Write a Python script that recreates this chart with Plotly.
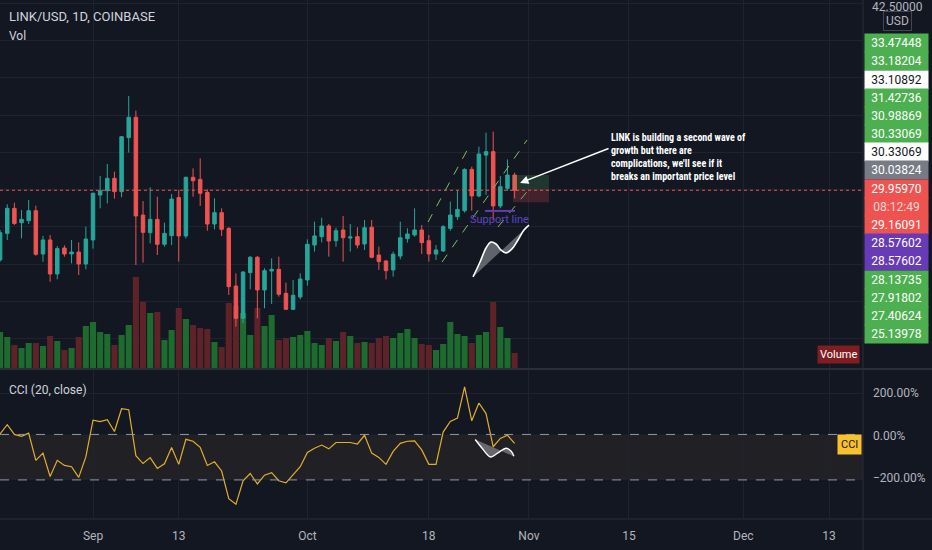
import pandas as pd
import plotly.graph_objects as go

# LINK/USD daily candles (first bar 2021-08-19)
start = "2021-08-19"
open_ = [25.29, 27.07, 28.75, 27.79, 27.92, 28.59, 25.69, 26.63, 24.35, 26.09,
         25.69, 25.82, 25.02, 26.63, 29.64, 29.93, 30.76, 29.87, 33.49, 34.85,
         28.30, 27.12, 28.01, 26.34, 26.92, 29.47, 26.90, 30.83, 30.69, 29.82,
         27.70, 28.46, 27.41, 23.54, 21.38, 24.44, 25.47, 23.28, 24.55, 24.66,
         23.05, 21.98, 22.81, 23.95, 26.29, 26.85, 27.57, 26.58, 27.30, 26.76,
         26.85, 26.36, 27.48, 25.62, 25.22, 24.62, 25.55, 26.72, 26.96, 27.30,
         26.58, 25.69, 25.89, 27.41, 28.19, 28.59, 31.36, 29.58, 32.32, 32.55,
         28.91, 30.09, 30.98]
high = [27.30, 29.02, 29.13, 28.64, 29.31, 28.93, 26.90, 26.96, 26.22, 26.27,
        26.63, 26.47, 27.52, 29.80, 30.92, 31.72, 31.21, 33.60, 36.28, 35.30,
        29.24, 30.16, 29.53, 27.79, 29.71, 29.98, 30.87, 31.43, 32.10, 30.02,
        29.42, 28.75, 27.48, 24.39, 24.55, 25.56, 25.56, 24.73, 25.40, 25.51,
        23.77, 23.95, 24.39, 26.67, 27.86, 28.12, 27.70, 27.45, 28.24, 27.70,
        27.48, 27.97, 27.97, 26.18, 25.29, 25.85, 27.86, 27.41, 28.75, 27.63,
        26.96, 26.29, 27.63, 29.20, 29.93, 31.43, 31.54, 32.88, 33.82, 33.89,
        30.92, 32.03, 31.14]
low = [25.17, 26.63, 27.63, 26.74, 27.70, 25.58, 25.17, 23.83, 23.99, 25.51,
       25.06, 24.28, 24.66, 26.05, 28.75, 29.08, 29.40, 29.49, 32.48, 24.95,
       25.11, 26.40, 25.62, 26.18, 26.29, 25.18, 26.74, 29.53, 28.91, 27.25,
       27.34, 26.90, 22.94, 20.82, 21.04, 23.32, 21.38, 22.05, 22.34, 22.83,
       21.94, 21.94, 22.65, 23.57, 25.85, 26.47, 25.51, 26.18, 25.18, 25.85,
       26.07, 25.96, 25.40, 24.62, 23.99, 24.17, 25.33, 26.45, 26.85, 25.69,
       25.18, 25.29, 25.85, 27.25, 27.97, 28.46, 28.59, 29.49, 29.64, 27.97,
       28.75, 29.93, 29.42]
close = [27.12, 28.75, 27.74, 28.01, 28.59, 25.67, 26.63, 24.35, 26.05, 25.69,
         25.82, 25.02, 26.69, 29.76, 29.93, 30.76, 29.87, 33.55, 34.85, 28.24,
         27.14, 28.01, 26.34, 27.07, 29.37, 26.90, 30.83, 30.60, 29.76, 27.70,
         28.46, 27.34, 23.50, 21.38, 24.48, 25.47, 23.28, 24.57, 24.66, 22.99,
         21.98, 22.92, 24.01, 26.34, 26.90, 27.57, 26.56, 27.25, 26.78, 26.83,
         26.29, 27.45, 25.47, 25.18, 24.57, 25.67, 26.78, 27.03, 27.30, 26.45,
         25.69, 25.96, 27.52, 28.30, 28.68, 31.36, 29.58, 32.39, 32.55, 28.91,
         30.20, 30.98, 29.96]
volume = [1620, 1395, 1035, 900, 1125, 1125, 990, 1440, 1215, 810,
          900, 1395, 1890, 2070, 1620, 1530, 1035, 1485, 1935, 4095,
          2970, 2475, 2520, 1260, 1710, 2700, 2205, 1935, 1800, 1755,
          1170, 945, 2925, 2790, 2475, 1485, 2700, 1890, 2385, 1260,
          1350, 1395, 1485, 1665, 1125, 1035, 1350, 1215, 1620, 1440,
          1125, 1170, 1125, 1350, 1440, 1350, 1575, 1755, 1350, 1080,
          1035, 810, 1080, 2070, 1530, 1440, 1125, 1485, 1620, 2970,
          1845, 1350, 675]
cci = [9, 52, 6, -3, 12, -116, -82, -192, -116, -140,
       -146, -196, -100, 73, 66, 75, 20, 127, 122, -94,
       -131, -103, -154, -132, -55, -135, -17, -26, -55, -140,
       -123, -166, -296, -323, -212, -178, -227, -186, -174, -212,
       -222, -186, -146, -79, -59, -44, -62, -32, -33, -32,
       -39, 2, -82, -102, -135, -74, -36, -26, -24, -67,
       -135, -135, 17, 67, 83, 230, 70, 154, 104, -52,
       -13, 2, -36]
cci_upper, cci_lower = 6, -208
last_price = 29.96

tick_dates = ["2021-09-01", "2021-09-13", "2021-10-01", "2021-10-18",
              "2021-11-01", "2021-11-15", "2021-12-01", "2021-12-13"]
tick_text = ["Sep", "13", "Oct", "18", "Nov", "15", "Dec", "13"]
price_ticks = [20 + 2.5 * k for k in range(10)]

# labels stacked on the price scale
scale_labels = ["33.47448", "33.18204", "33.10892", "31.42736", "30.98869",
                "30.33069", "30.33069", "30.03824", "29.95970", "08:12:49",
                "29.16091", "28.57602", "28.57602", "28.13735", "27.91802",
                "27.40624", "25.13978"]
scale_kinds = ["g", "g", "w", "g", "g", "g", "w", "k", "r", "t",
               "r", "p", "p", "g", "g", "g", "g"]

# drawings (day offsets from start, price)
channel_lines = [((59.88, 27.83), (65.76, 33.00)),
                 ((61.84, 25.15), (73.73, 33.33)),
                 ((69.67, 27.50), (74.15, 30.11))]
support = (67.86, 72.05, 28.576)
position = (71.78, 76.81, 30.98869, 30.03824, 29.16091)
wave_d = [66.18, 67.16, 68.0, 68.70, 69.40, 70.09, 70.80, 71.63, 72.47, 73.31, 74.01]
wave_p = [24.15, 25.15, 26.09, 26.49, 26.36, 25.96, 25.76, 26.03, 26.63, 27.30, 27.63]
cci_wave_d = [66.49, 67.45, 68.65, 69.62, 70.82, 71.55, 71.89]
cci_wave_v = [-18, -59, -100, -82, -59, -74, -97]
note = ("LINK is building a second wave of<br>growth but there are<br>"
        "complications, we'll see if it<br>breaks an important price level")

BG = "#131722"
GRID = "#1f2330"
UP, DOWN = "#26a69a", "#ef5350"
TXT = "#b2b5be"
FONT = "Roboto"

t0 = pd.Timestamp(start)
dates = pd.date_range(t0, periods=len(close), freq="D")


def day(d):
    return t0 + pd.to_timedelta(d, unit="D")


vol_colors = ["#1d6b2e" if c >= o else "#5e2328" for o, c in zip(open_, close)]

fig = go.Figure()
fig.add_trace(go.Bar(x=dates, y=volume, marker=dict(color=vol_colors, line_width=0),
                     width=0.85 * 86400000, xaxis="x", yaxis="y", hoverinfo="skip"))
fig.add_trace(go.Candlestick(
    x=dates, open=open_, high=high, low=low, close=close,
    increasing=dict(line=dict(color=UP, width=1), fillcolor=UP),
    decreasing=dict(line=dict(color=DOWN, width=1), fillcolor=DOWN),
    whiskerwidth=0, xaxis="x", yaxis="y3"))
fig.add_trace(go.Scatter(x=[day(d) for d in wave_d], y=wave_p, mode="lines",
                         fill="toself", fillcolor="rgba(190,190,200,0.45)",
                         line=dict(color="white", width=1.6, shape="spline"),
                         xaxis="x", yaxis="y3", hoverinfo="skip"))
fig.add_trace(go.Scatter(x=dates, y=cci, mode="lines",
                         line=dict(color="#e2ae2c", width=1.2), xaxis="x2", yaxis="y2"))
fig.add_trace(go.Scatter(x=[day(d) for d in cci_wave_d], y=cci_wave_v, mode="lines",
                         fill="toself", fillcolor="rgba(190,190,200,0.45)",
                         line=dict(color="white", width=1.4, shape="spline"),
                         xaxis="x2", yaxis="y2", hoverinfo="skip"))

x_range = [day(-0.014), day(120.75)]
xcommon = dict(type="date", range=x_range, tickvals=tick_dates, ticktext=tick_text,
               showgrid=True, gridcolor=GRID, zeroline=False, showline=False,
               tickfont=dict(color=TXT, size=12, family=FONT))

fig.update_layout(
    width=932, height=550,
    margin=dict(l=0, r=69, t=0, b=31),
    paper_bgcolor=BG, plot_bgcolor=BG,
    showlegend=False,
    font=dict(family=FONT, color=TXT),
    xaxis=dict(xcommon, anchor="y", showticklabels=False, rangeslider=dict(visible=False)),
    xaxis2=dict(xcommon, anchor="y2", matches="x", ticks="", ticklabelstandoff=8),
    yaxis=dict(domain=[0.291, 1], range=[0, 16560], showgrid=False, showticklabels=False,
               zeroline=False),
    # price scale labels are hidden under the stacked boxes anyway
    yaxis3=dict(overlaying="y", side="right", range=[18.05, 42.714],
                tickvals=price_ticks, showticklabels=False,
                showgrid=True, gridcolor=GRID, zeroline=False),
    yaxis2=dict(domain=[0, 0.287], range=[-392, 309], side="right",
                tickvals=[200, 0, -200], ticktext=["200.00%", "0.00%", "\u2212200.00%"],
                showgrid=True, gridcolor=GRID, zeroline=False, ticklabelstandoff=9,
                tickfont=dict(color=TXT, size=12)),
)

shapes = []
# CCI band
shapes.append(dict(type="rect", xref="x2 domain", yref="y2", x0=0, x1=1,
                   y0=cci_lower, y1=cci_upper, fillcolor="rgba(255,190,90,0.06)",
                   line_width=0, layer="below"))
for v in (cci_upper, cci_lower):
    shapes.append(dict(type="line", xref="x2 domain", yref="y2", x0=0, x1=1, y0=v, y1=v,
                       line=dict(color="#9598a1", width=1, dash="dash")))
# last price line
shapes.append(dict(type="line", xref="x domain", yref="y3", x0=0, x1=1,
                   y0=last_price, y1=last_price,
                   line=dict(color=DOWN, width=1, dash="dot")))
# channel lines
for (d0, p0), (d1, p1) in channel_lines:
    shapes.append(dict(type="line", xref="x", yref="y3", x0=day(d0), y0=p0,
                       x1=day(d1), y1=p1,
                       line=dict(color="#7fbf5a", width=1, dash="dash")))
# support line
shapes.append(dict(type="line", xref="x", yref="y3", x0=day(support[0]), x1=day(support[1]),
                   y0=support[2], y1=support[2], line=dict(color="#673ab7", width=2)))
# long position box
px0, px1, p_tp, p_entry, p_sl = position
shapes.append(dict(type="rect", xref="x", yref="y3", x0=day(px0), x1=day(px1),
                   y0=p_entry, y1=p_tp, fillcolor="rgba(76,175,80,0.22)", line_width=0))
shapes.append(dict(type="rect", xref="x", yref="y3", x0=day(px0), x1=day(px1),
                   y0=p_sl, y1=p_entry, fillcolor="rgba(239,83,80,0.22)", line_width=0))
# pane separators and scale borders
shapes.append(dict(type="line", xref="paper", yref="paper", x0=0, x1=1.08,
                   y0=0.289, y1=0.289, line=dict(color="#2a2e39", width=2)))
shapes.append(dict(type="line", xref="paper", yref="paper", x0=0, x1=1.08,
                   y0=0, y1=0, line=dict(color="#2a2e39", width=1)))
shapes.append(dict(type="line", xref="paper", yref="paper", x0=1, x1=1,
                   y0=-0.06, y1=1, line=dict(color="#2a2e39", width=1)))
fig.update_layout(shapes=shapes)

ann = []


def px_to_paper(ypx):
    return (519 - ypx) / 519


ann.append(dict(xref="paper", yref="paper", x=0, xshift=7, y=px_to_paper(17),
                xanchor="left", yanchor="middle", showarrow=False,
                text="LINK/USD, 1D, COINBASE", font=dict(size=13, color="#d1d4dc")))
ann.append(dict(xref="paper", yref="paper", x=0, xshift=7, y=px_to_paper(36),
                xanchor="left", yanchor="middle", showarrow=False,
                text="Vol", font=dict(size=12, color="#d1d4dc")))
ann.append(dict(xref="paper", yref="paper", x=0, xshift=7, y=px_to_paper(390),
                xanchor="left", yanchor="middle", showarrow=False,
                text="CCI (20, close)", font=dict(size=12, color="#d1d4dc")))
ann.append(dict(xref="paper", yref="paper", x=1, xshift=-3, y=px_to_paper(354.5),
                xanchor="right", yanchor="middle", showarrow=False, text="Volume",
                bgcolor="#7f1d22", borderpad=2, font=dict(size=11, color="white")))
ann.append(dict(xref="paper", yref="paper", x=1, xshift=-1, y=px_to_paper(444),
                xanchor="right", yanchor="middle", showarrow=False, text="CCI",
                bgcolor="#f9c12f", borderpad=3, font=dict(size=11, color="#131722")))
ann.append(dict(xref="paper", yref="paper", x=1, xshift=34, y=px_to_paper(7),
                xanchor="center", yanchor="middle", showarrow=False,
                text="%.5f" % price_ticks[-1], font=dict(size=12, color=TXT)))
ann.append(dict(xref="paper", yref="paper", x=1, xshift=34, y=px_to_paper(21),
                xanchor="center", yanchor="middle", showarrow=False, text="USD",
                bordercolor="#434651", borderwidth=1, borderpad=2, bgcolor=BG,
                font=dict(size=12, color=TXT)))

kind_style = {"g": ("#4caf50", "white"), "w": ("#ffffff", "#131722"),
              "k": ("#787b86", "white"), "r": ("#ef5350", "white"),
              "t": ("#ef5350", "#fbd3d3"), "p": ("#673ab7", "white")}
for k, (lab, kind) in enumerate(zip(scale_labels, scale_kinds)):
    bg, fg = kind_style[kind]
    ann.append(dict(xref="paper", yref="paper", x=1, xshift=1,
                    y=px_to_paper(43.3 + 18.17 * k), xanchor="left", yanchor="middle",
                    showarrow=False, text=lab, bgcolor=bg, width=61, height=16,
                    borderpad=1, align="center", font=dict(size=12, color=fg)))

ann.append(dict(xref="x", yref="y3", x=day(69.82), y=28.02, showarrow=False,
                text="Support line", font=dict(size=11, color="#5e45c8")))
ann.append(dict(xref="x", yref="y3", x=day(72.76), y=30.45, axref="x", ayref="y3",
                ax=day(85.35), ay=32.8, showarrow=True, arrowhead=2, arrowsize=1.2,
                arrowwidth=1.4, arrowcolor="white", text=""))
ann.append(dict(xref="x", yref="y3", x=day(85.21), y=34.0,
                xanchor="left", yanchor="top", align="left", showarrow=False,
                text="<b>%s</b>" % note,
                font=dict(size=10, color="white",
                          family="Liberation Sans Narrow, Roboto Condensed, Roboto")))
fig.update_layout(annotations=ann)

# the page body carries a default 8px margin; drop it so the chart fills the window
fig.write_html("out.html", config={"displayModeBar": False},
               post_script="document.body.style.margin='0';")
